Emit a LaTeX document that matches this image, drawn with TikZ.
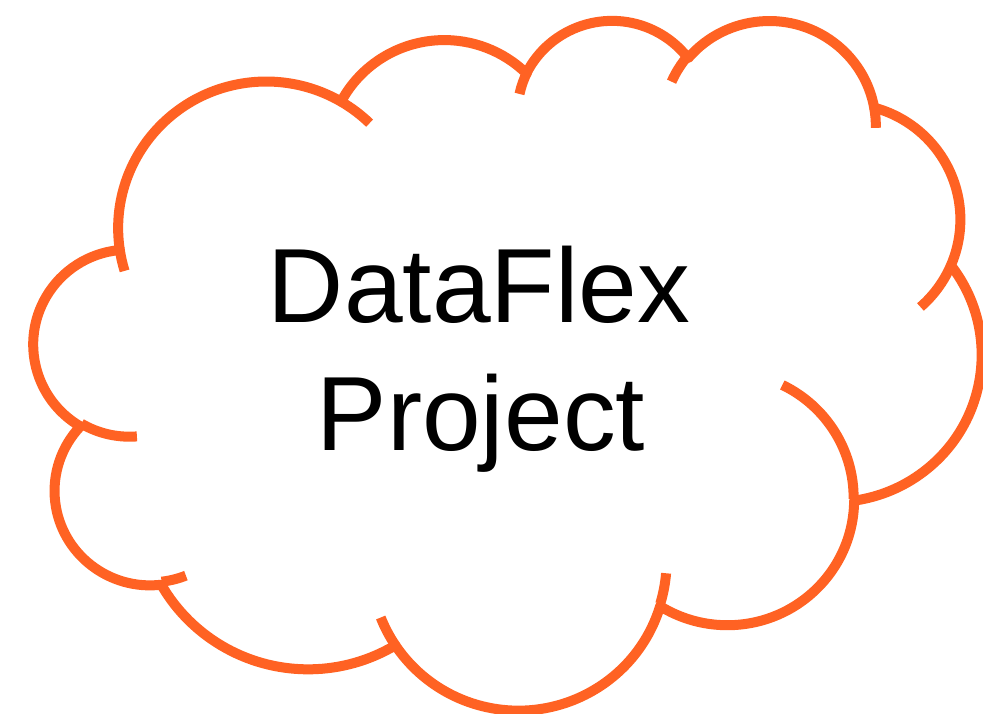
\documentclass[tikz,border=0pt]{standalone}
\usepackage{fontspec}
\setmainfont{Liberation Sans}
\definecolor{cloudorange}{RGB}{255,98,35}
% visual (OOXML) angles -> parametric ellipse angles
\newcommand\cloudarc[4]{%
  \pgfmathsetmacro\cloudta{atan2((#1)*sin(#3),(#2)*cos(#3))}%
  \pgfmathsetmacro\cloudtb{atan2((#1)*sin((#3)+(#4)),(#2)*cos((#3)+(#4)))}%
  \pgfmathsetmacro\cloudtb{\cloudtb+((#4)>0)*(\cloudtb<\cloudta)*360-((#4)<0)*(\cloudtb>\cloudta)*360}%
  \global\let\cloudta\cloudta
  \global\let\cloudtb\cloudtb
  \gdef\cloudrx{#1}\gdef\cloudry{#2}%
}
\tikzset{
  carc/.style={x radius=\cloudrx, y radius=\cloudry, start angle=\cloudta, end angle=\cloudtb},
  cloudline/.style={draw=cloudorange, line width=10pt, line join=round},
  cloudtail/.style={draw=cloudorange, line width=10pt},
  label/.style={font=\fontsize{105.5}{126}\selectfont, text=black, anchor=base, inner sep=0pt}
}
\begin{document}
\begin{tikzpicture}[x=1pt,y=-1pt]
\path[use as bounding box] (0,0) rectangle (983,713);
\begin{scope}[shift={(34,18.6)}, x=0.0219213pt, y=-0.0159653pt]
\draw[cloudline, fill=white] (3900,14370) coordinate (c0)
  \pgfextra{\cloudarc{6753}{9190}{-190.48748}{123.78053}} arc[carc] coordinate (j12)
  \pgfextra{\cloudarc{5333}{7267}{-144.10238}{89.94523}} arc[carc] coordinate (j23)
  \pgfextra{\cloudarc{4365}{5945}{-145.80792}{99.72302}} arc[carc] coordinate (j34)
  \pgfextra{\cloudarc{4857}{6595}{-130.98607}{117.24173}} arc[carc] coordinate (j45)
  \pgfextra{\cloudarc{5333}{7273}{-78.70888}{109.02692}} arc[carc] coordinate (j56)
  \pgfextra{\cloudarc{6775}{9220}{-46.26725}{130.269}} arc[carc] coordinate (j67)
  \pgfextra{\cloudarc{5785}{7867}{0.62502}{114.03333}} arc[carc] coordinate (j78)
  \pgfextra{\cloudarc{6752}{9215}{22.4516}{115.17255}} arc[carc] coordinate (j89)
  \pgfextra{\cloudarc{7720}{10543}{66.24263}{75.71102}} arc[carc] coordinate (j910)
  \pgfextra{\cloudarc{4360}{5918}{-274.94208}{146.73557}} arc[carc] coordinate (j1011)
  \pgfextra{\cloudarc{4345}{5945}{-246.8285}{152.51885}} arc[carc]
  -- cycle;
\coordinate (ta) at (4693,26177);
\coordinate (tb) at (6928,34899);
\coordinate (td) at (28827,34751);
\coordinate (te) at (34129,22954);
\coordinate (th) at (29078,3952);
\coordinate (ti) at (22141,4720);
\draw[cloudtail] (ta) \pgfextra{\cloudarc{4345}{5945}{86.742}{26.4295}} arc[carc];
\draw[cloudtail] (tb) \pgfextra{\cloudarc{4360}{5918}{73.61047}{11.44747}} arc[carc];
\draw[cloudtail] (j89) \pgfextra{\cloudarc{6752}{9215}{137.62415}{14.0811}} arc[carc];
\draw[cloudtail] (td) \pgfextra{\cloudarc{6752}{9215}{6.45327}{15.99835}} arc[carc];
\draw[cloudtail] (te) \pgfextra{\cloudarc{5785}{7867}{-70.29235}{70.91737}} arc[carc];
\draw[cloudtail] (j56) \pgfextra{\cloudarc{5333}{7273}{30.31804}{27}} arc[carc];
\draw[cloudtail] (j45) \pgfextra{\cloudarc{4857}{6595}{-13.73627}{14.8626}} arc[carc];
\draw[cloudtail] (th) \pgfextra{\cloudarc{4857}{6595}{-149.18145}{18.19537}} arc[carc];
\draw[cloudtail] (ti) \pgfextra{\cloudarc{4365}{5945}{-163.49427}{17.68635}} arc[carc];
\draw[cloudtail] (j12) \pgfextra{\cloudarc{6753}{9190}{-66.70695}{12.31935}} arc[carc];
\draw[cloudtail] (c0) \pgfextra{\cloudarc{6753}{9190}{169.51252}{-12}} arc[carc];
\end{scope}
\node[label] (t1) at (479,322) {DataFlex};
\node[label] (t2) at (481,450) {Project};
\end{tikzpicture}
\end{document}
